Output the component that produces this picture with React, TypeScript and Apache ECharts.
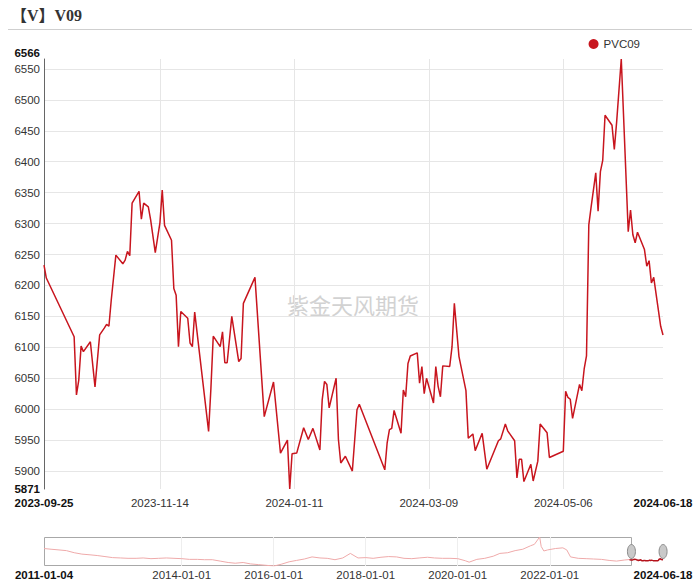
import React, { useEffect, useRef } from 'react';
import * as echarts from 'echarts';

const TITLE = '【V】V09';
const SERIES_NAME = 'PVC09';
const WATERMARK = '紫金天风期货';

// Long history, read from the overview strip (sparse)
const HIST_DATES = [
  '2011-01-04', '2011-03-01', '2011-05-03', '2011-07-01', '2011-09-01', '2011-11-01',
  '2012-01-04', '2012-03-01', '2012-05-02', '2012-07-02', '2012-09-03', '2012-11-01',
  '2013-01-04', '2013-03-01', '2013-05-02', '2013-07-01', '2013-09-02', '2013-11-01',
  '2014-01-02', '2014-03-03', '2014-05-05', '2014-07-01', '2014-09-01', '2014-11-03',
  '2015-01-05', '2015-03-02', '2015-05-04', '2015-07-01', '2015-09-01', '2015-11-02',
  '2016-01-04', '2016-03-01', '2016-05-03', '2016-07-01', '2016-09-01', '2016-11-01',
  '2017-01-03', '2017-03-01', '2017-05-02', '2017-07-03', '2017-09-01', '2017-11-01',
  '2018-01-02', '2018-03-01', '2018-05-02', '2018-07-02', '2018-09-03', '2018-11-01',
  '2019-01-02', '2019-03-01', '2019-05-06', '2019-07-01', '2019-09-02', '2019-11-01',
  '2020-01-02', '2020-03-02', '2020-04-01', '2020-06-01', '2020-08-03', '2020-10-09',
  '2020-12-01', '2021-02-01', '2021-04-01', '2021-06-01', '2021-08-02', '2021-09-01',
  '2021-10-13', '2021-10-25', '2021-11-15', '2021-12-15', '2022-02-15', '2022-04-15',
  '2022-05-16', '2022-06-15', '2022-08-15', '2022-10-17', '2022-12-15', '2023-02-15',
  '2023-04-17', '2023-06-15', '2023-08-15', '2023-09-22',
];
const HIST_VALUES = [
  9250, 9060, 8870, 8680, 8110, 7730,
  7540, 7350, 7065, 6780, 6685, 6590,
  6590, 6685, 6495, 6590, 6685, 6590,
  6495, 6305, 6305, 6210, 6210, 5830,
  5450, 5260, 5450, 5070, 4880, 4690,
  4500, 4975, 5640, 6020, 6400, 6970,
  6685, 6590, 6210, 6685, 7920, 6685,
  6780, 6590, 6875, 7065, 6970, 6590,
  6495, 6685, 6875, 6685, 6590, 6590,
  6495, 5925, 5545, 6305, 6590, 7160,
  7920, 8110, 8680, 9060, 10010, 10390,
  12385, 9820, 8585, 8870, 9250, 9440,
  8870, 6970, 6590, 6495, 6400, 6305,
  6020, 5830, 6115, 6250,
];

// Visible window
const RECENT_DATES = [
  '2023-09-25', '2023-09-26', '2023-10-08', '2023-10-09', '2023-10-10', '2023-10-11', '2023-10-12',
  '2023-10-15', '2023-10-17', '2023-10-19', '2023-10-21', '2023-10-22', '2023-10-23', '2023-10-24',
  '2023-10-26', '2023-10-29', '2023-10-30', '2023-10-31', '2023-11-01', '2023-11-02', '2023-11-05',
  '2023-11-06', '2023-11-07', '2023-11-09', '2023-11-10', '2023-11-12', '2023-11-14', '2023-11-15',
  '2023-11-16', '2023-11-19', '2023-11-20', '2023-11-21', '2023-11-22', '2023-11-23', '2023-11-26',
  '2023-11-27', '2023-11-28', '2023-11-29', '2023-12-05', '2023-12-06', '2023-12-07', '2023-12-10',
  '2023-12-11', '2023-12-12', '2023-12-13', '2023-12-15', '2023-12-18', '2023-12-19', '2023-12-20',
  '2023-12-25', '2023-12-29', '2024-01-02', '2024-01-05', '2024-01-08', '2024-01-09', '2024-01-10',
  '2024-01-12', '2024-01-15', '2024-01-17', '2024-01-19', '2024-01-22', '2024-01-23', '2024-01-24',
  '2024-01-25', '2024-01-26', '2024-01-29', '2024-01-30', '2024-01-31', '2024-02-02', '2024-02-05',
  '2024-02-07', '2024-02-08', '2024-02-19', '2024-02-20', '2024-02-21', '2024-02-22', '2024-02-23',
  '2024-02-26', '2024-02-27', '2024-02-28', '2024-02-29', '2024-03-01', '2024-03-04', '2024-03-05',
  '2024-03-06', '2024-03-07', '2024-03-08', '2024-03-11', '2024-03-12', '2024-03-13', '2024-03-14',
  '2024-03-15', '2024-03-18', '2024-03-19', '2024-03-20', '2024-03-22', '2024-03-25', '2024-03-26',
  '2024-03-28', '2024-03-29', '2024-04-01', '2024-04-03', '2024-04-08', '2024-04-09', '2024-04-11',
  '2024-04-12', '2024-04-15', '2024-04-16', '2024-04-17', '2024-04-18', '2024-04-19', '2024-04-22',
  '2024-04-23', '2024-04-25', '2024-04-26', '2024-04-29', '2024-04-30', '2024-05-06', '2024-05-07',
  '2024-05-08', '2024-05-09', '2024-05-10', '2024-05-13', '2024-05-14', '2024-05-15', '2024-05-16',
  '2024-05-17', '2024-05-18', '2024-05-20', '2024-05-21', '2024-05-22', '2024-05-23', '2024-05-24',
  '2024-05-27', '2024-05-28', '2024-05-29', '2024-05-31', '2024-06-03', '2024-06-04', '2024-06-05',
  '2024-06-06', '2024-06-07', '2024-06-10', '2024-06-11', '2024-06-12', '2024-06-13', '2024-06-14',
  '2024-06-17', '2024-06-18',
];
const RECENT_VALUES = [
  6233, 6212, 6117, 6023, 6047, 6102, 6093,
  6109, 6036, 6120, 6131, 6137, 6134, 6176,
  6249, 6235, 6241, 6255, 6248, 6333, 6352,
  6307, 6333, 6327, 6306, 6253, 6301, 6354,
  6297, 6273, 6195, 6184, 6101, 6158, 6147,
  6107, 6101, 6157, 5964, 6034, 6118, 6101,
  6125, 6075, 6075, 6150, 6077, 6082, 6171,
  6213, 5988, 6044, 5929, 5950, 5871, 5928,
  5929, 5970, 5951, 5969, 5934, 6015, 6045,
  6040, 6002, 6050, 5951, 5913, 5924, 5900,
  5999, 6008, 5902, 5945, 5967, 5969, 5998,
  5961, 6031, 6020, 6074, 6086, 6091, 6042,
  6069, 6025, 6050, 6010, 6069, 6037, 6020,
  6070, 6069, 6101, 6171, 6085, 6030, 5953,
  5960, 5933, 5961, 5903, 5949, 5952, 5976,
  5965, 5949, 5889, 5919, 5919, 5883, 5911,
  5884, 5916, 5976, 5962, 5922, 5932, 6029,
  6019, 6016, 5985, 6040, 6030, 6065, 6086,
  6298, 6327, 6382, 6320, 6384, 6402, 6475,
  6459, 6420, 6464, 6566, 6287, 6322, 6282,
  6269, 6286, 6258, 6231, 6240, 6204, 6213,
  6134, 6120,
];

const VIEW_START = '2023-09-25';
const VIEW_END = '2024-06-18';
const MAIN_X_TICKS = ['2023-11-14', '2024-01-11', '2024-03-09', '2024-05-06'];
const Y_MIN = 5871;
const Y_MAX = 6566;
const Y_TICKS = [5900, 5950, 6000, 6050, 6100, 6150, 6200, 6250, 6300, 6350, 6400, 6450, 6500, 6550];
const OVERVIEW_START = '2011-01-04';
const OVERVIEW_TICKS = ['2014-01-01', '2016-01-01', '2018-01-01', '2020-01-01', '2022-01-01'];

const LINE_COLOR = '#c8151e';
const FONT = '"Liberation Sans", Arial, sans-serif';

const ts = (s: string) => {
  const [y, m, d] = s.split('-').map(Number);
  return new Date(y, m - 1, d).getTime();
};
const pad = (n: number) => String(n).padStart(2, '0');
const fmt = (v: number) => {
  const d = new Date(v);
  return `${d.getFullYear()}-${pad(d.getMonth() + 1)}-${pad(d.getDate())}`;
};

function buildOption() {
  const hist = HIST_DATES.map((d, i) => [ts(d), HIST_VALUES[i]]);
  const recent = RECENT_DATES.map((d, i) => [ts(d), RECENT_VALUES[i]]);
  const full = hist.concat(recent);
  const vStart = ts(VIEW_START);
  const vEnd = ts(VIEW_END);
  const oStart = ts(OVERVIEW_START);

  const edgeFormatter = (lo: number, hi: number) => (v: number) => {
    const s = fmt(v);
    return Math.abs(v - lo) < 1000 || Math.abs(v - hi) < 1000 ? `{b|${s}}` : s;
  };
  const labelBase = { fontSize: 11.5, color: '#333', fontFamily: FONT };
  const boldRich = { b: { fontSize: 11.5, fontWeight: 'bold', color: '#111', fontFamily: FONT } };

  return {
    animation: false,
    backgroundColor: '#fff',
    textStyle: { fontFamily: FONT },
    legend: {
      data: [SERIES_NAME],
      right: 55,
      top: 33,
      icon: 'circle',
      itemWidth: 10,
      itemHeight: 10,
      textStyle: { fontSize: 11.5, color: '#333', fontFamily: FONT },
    },
    grid: [
      { left: 44, right: 37, top: 59, bottom: 94, containLabel: false, outerBoundsMode: 'none' },
      { left: 44, right: 37, top: 537, height: 29, containLabel: false, outerBoundsMode: 'none' },
    ],
    xAxis: [
      {
        type: 'value',
        gridIndex: 0,
        scale: true,
        max: 'dataMax',
        axisLine: { show: false },
        axisTick: { show: false, customValues: MAIN_X_TICKS.map(ts) },
        splitLine: { show: true, lineStyle: { color: '#e6e6e6', width: 1 } },
        axisLabel: {
          ...labelBase,
          margin: 8,
          customValues: [vStart, ...MAIN_X_TICKS.map(ts), vEnd],
          formatter: edgeFormatter(vStart, vEnd),
          rich: boldRich,
        },
      },
      {
        type: 'value',
        gridIndex: 1,
        min: oStart,
        max: vEnd,
        axisLine: { show: false },
        axisTick: { show: false, customValues: OVERVIEW_TICKS.map(ts) },
        splitLine: { show: true, lineStyle: { color: '#eeeeee', width: 1 } },
        axisLabel: {
          ...labelBase,
          margin: 3,
          customValues: [oStart, ...OVERVIEW_TICKS.map(ts), vEnd],
          formatter: edgeFormatter(oStart, vEnd),
          rich: boldRich,
        },
      },
    ],
    yAxis: [
      {
        type: 'value',
        gridIndex: 0,
        min: Y_MIN,
        max: Y_MAX,
        axisLine: { show: true, lineStyle: { color: '#666', width: 1 } },
        axisTick: { show: false, customValues: Y_TICKS },
        splitLine: { show: true, lineStyle: { color: '#e6e6e6', width: 1 } },
        axisLabel: {
          ...labelBase,
          margin: 4,
          customValues: Y_TICKS,
          formatter: (v: number) => String(v),
        },
      },
      {
        type: 'value',
        gridIndex: 0,
        position: 'left',
        min: Y_MIN,
        max: Y_MAX,
        axisLine: { show: false },
        axisTick: { show: false },
        splitLine: { show: false },
        axisLabel: {
          fontSize: 11.5,
          fontWeight: 'bold',
          color: '#111',
          fontFamily: FONT,
          margin: 4,
          verticalAlignMaxLabel: 'bottom',
          customValues: [Y_MIN, Y_MAX],
          formatter: (v: number) => String(v),
        },
      },
      {
        type: 'value',
        gridIndex: 1,
        min: 'dataMin',
        max: 'dataMax',
        show: false,
        splitLine: { show: false },
      },
    ],
    dataZoom: [
      {
        type: 'slider',
        xAxisIndex: 0,
        filterMode: 'filter',
        startValue: vStart,
        endValue: vEnd,
        left: 44,
        right: 37,
        top: 537,
        height: 29,
        showDataShadow: false,
        showDetail: false,
        brushSelect: false,
        moveHandleSize: 0,
        backgroundColor: 'rgba(0,0,0,0)',
        borderColor: 'rgba(0,0,0,0)',
        fillerColor: 'rgba(0,0,0,0)',
        handleIcon:
          'path://M4,0 C6.2,0 8,3.1 8,7 C8,10.9 6.2,14 4,14 C1.8,14 0,10.9 0,7 C0,3.1 1.8,0 4,0 Z',
        handleSize: 14,
        handleStyle: { color: '#c9c9c9', borderColor: '#8a8a8a', borderWidth: 1 },
        emphasis: { handleStyle: { color: '#c9c9c9', borderColor: '#8a8a8a', borderWidth: 1 } },
      },
    ],
    graphic: [
      {
        type: 'text',
        x: 11,
        y: 15,
        silent: true,
        style: {
          text: TITLE,
          font: 'bold 16px "Liberation Serif", "Noto Sans CJK SC", serif',
          fill: '#333',
          verticalAlign: 'middle',
        },
      },
      {
        type: 'line',
        silent: true,
        shape: { x1: 8, y1: 29.5, x2: 692, y2: 29.5 },
        style: { stroke: '#cfcfcf', lineWidth: 1 },
      },
      {
        type: 'text',
        x: 353,
        y: 304,
        silent: true,
        z: 0,
        style: {
          text: WATERMARK,
          font: '22px "Noto Sans CJK SC", sans-serif',
          fill: '#d2d2d2',
          align: 'center',
          verticalAlign: 'middle',
        },
      },
      {
        type: 'rect',
        silent: true,
        shape: { x: 44.5, y: 537.5, width: 587, height: 28 },
        style: { fill: 'none', stroke: '#a8a8a8', lineWidth: 1 },
      },
    ],
    series: [
      {
        name: SERIES_NAME,
        type: 'line',
        xAxisIndex: 0,
        yAxisIndex: 0,
        data: full,
        showSymbol: false,
        symbol: 'none',
        color: LINE_COLOR,
        itemStyle: { color: LINE_COLOR },
        lineStyle: { color: LINE_COLOR, width: 1.5 },
        z: 3,
      },
      {
        name: 'overview',
        type: 'line',
        xAxisIndex: 1,
        yAxisIndex: 2,
        data: hist.concat([recent[0]]),
        showSymbol: false,
        symbol: 'none',
        silent: true,
        lineStyle: { color: '#efaaaa', width: 1 },
      },
      {
        name: 'overviewSelected',
        type: 'line',
        xAxisIndex: 1,
        yAxisIndex: 2,
        data: recent,
        showSymbol: false,
        symbol: 'none',
        silent: true,
        lineStyle: { color: '#b5121b', width: 1.5 },
      },
    ],
  };
}

export default function App() {
  const ref = useRef<HTMLDivElement>(null);
  useEffect(() => {
    if (!ref.current) return;
    const chart = echarts.init(ref.current, null, { renderer: 'svg' });
    chart.setOption(buildOption() as any);
    return () => chart.dispose();
  }, []);
  return (
    <div
      ref={ref}
      style={{ position: 'absolute', left: 0, top: 0, width: 700, height: 583 }}
    />
  );
}
